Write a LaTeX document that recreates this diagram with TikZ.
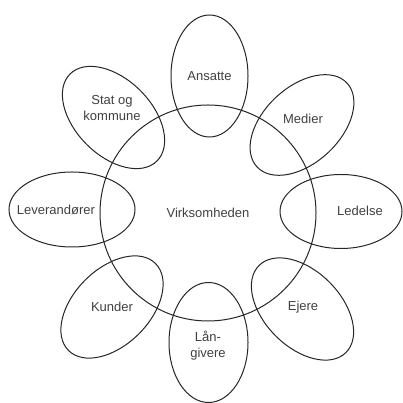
\documentclass[tikz,border=0pt]{standalone}
\usepackage{fontspec}
\setmainfont{Liberation Sans}
\begin{document}
\begin{tikzpicture}[x=1pt,y=1pt,
  outline/.style={draw, line width=1pt, black!85},
  lbl/.style={font=\fontsize{13}{16}\selectfont, align=center, inner sep=0pt, text=black!75}]
\useasboundingbox (0,0) rectangle (403,403);
\coordinate (c) at (208,190);
\draw[outline] (c) circle (108pt);
% petals: name, center, rotation
\coordinate (pAn) at (209.5,327);
\coordinate (pMe) at (302,278);
\coordinate (pLe) at (341,191.5);
\coordinate (pEj) at (302.5,94);
\coordinate (pLa) at (208.5,60.5);
\coordinate (pKu) at (112,96);
\coordinate (pLv) at (72,193.5);
\coordinate (pSt) at (113.5,285.5);
\draw[outline, rotate around={90:(pAn)}] (pAn) ellipse (61pt and 38.5pt);
\draw[outline, rotate around={43:(pMe)}] (pMe) ellipse (61.5pt and 38pt);
\draw[outline] (pLe) ellipse (61pt and 37pt);
\draw[outline, rotate around={-45:(pEj)}] (pEj) ellipse (61.5pt and 38pt);
\draw[outline, rotate around={90:(pLa)}] (pLa) ellipse (60pt and 39.5pt);
\draw[outline, rotate around={45:(pKu)}] (pKu) ellipse (61.5pt and 38pt);
\draw[outline] (pLv) ellipse (63pt and 37.5pt);
\draw[outline, rotate around={-45:(pSt)}] (pSt) ellipse (61.5pt and 38pt);
% labels
\node[lbl] (tV) at (208,190) {Virksomheden};
\node[lbl] (tAn) at (209.5,327) {Ansatte};
\node[lbl] (tMe) at (303,284) {Medier};
\node[lbl] (tLe) at (360,192) {Ledelse};
\node[lbl] (tEj) at (303,96) {Ejere};
\node[lbl] (tLa) at (208,57.5) {Lån-\\givere};
\node[lbl] (tKu) at (112,96) {Kunder};
\node[lbl] (tLv) at (56,193) {Leverandører};
\node[lbl] (tSt) at (112,294.5) {Stat og\\kommune};
\end{tikzpicture}
\end{document}
